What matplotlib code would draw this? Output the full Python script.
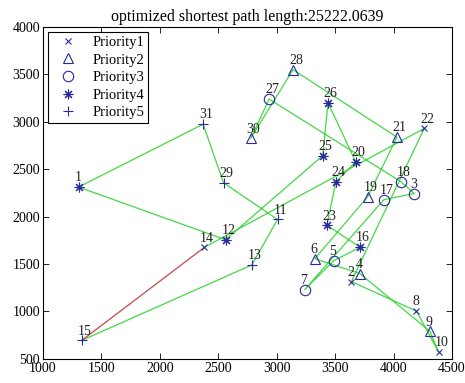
import matplotlib
matplotlib.use("Agg")
import matplotlib.pyplot as plt

# City coordinates (node 1..31)
xs = [1304, 3639, 4177, 3712, 3488, 3326, 3238, 4196, 4312, 4386, 3007, 2562, 2788, 2381,
      1332, 3715, 3918, 4061, 3780, 3676, 4029, 4263, 3429, 3507, 3394, 3439, 2935, 3140,
      2545, 2778, 2370]
ys = [2312, 1315, 2244, 1399, 1535, 1556, 1229, 1004, 790, 570, 1970, 1756, 1491, 1676,
      695, 1678, 2179, 2370, 2212, 2578, 2838, 2931, 1908, 2367, 2643, 3201, 3240, 3550,
      2357, 2826, 2975]
# Priority of each node
priority = [4, 1, 3, 2, 3, 2, 3, 1, 2, 1, 5, 4, 5, 1, 5, 4, 3, 3, 2, 4, 2, 1, 4, 4, 4, 4,
            3, 2, 5, 2, 5]
# Visiting order (1-based)
route = [15, 13, 11, 29, 31, 1, 12, 25, 26, 20, 24, 23, 16, 5, 7, 17, 3, 18, 27, 30, 28,
         21, 19, 6, 4, 9, 10, 8, 2, 22, 14]
path_length = "25222.0639"
priority_labels = ["Priority1", "Priority2", "Priority3", "Priority4", "Priority5"]

plt.rcParams['font.family'] = ['Liberation Serif', 'DejaVu Serif']

fig = plt.figure(figsize=(4.65, 3.83), dpi=100)
ax = fig.add_axes([0.0925, 0.063, 0.8795, 0.8665])

mcol = '#28289e'
markers = {1: 'x', 2: '^', 3: 'o', 4: (8, 2, 0), 5: '+'}
msize = {1: 5, 2: 7.5, 3: 7.5, 4: 7, 5: 7.5}

# path lines
rx = [xs[i - 1] for i in route]
ry = [ys[i - 1] for i in route]
ax.plot(rx, ry, color='#44d844', lw=0.9, zorder=2)
ax.plot([rx[-1], rx[0]], [ry[-1], ry[0]], color='#c04848', lw=0.9, zorder=2)

handles = []
for p in range(1, 6):
    px = [xs[i] for i in range(len(xs)) if priority[i] == p]
    py = [ys[i] for i in range(len(ys)) if priority[i] == p]
    h, = ax.plot(px, py, linestyle='none', marker=markers[p], markersize=msize[p],
                 markerfacecolor='none', markeredgecolor=mcol, markeredgewidth=0.8,
                 zorder=3, label=priority_labels[p - 1])
    handles.append(h)

for i in range(len(xs)):
    ax.annotate(str(i + 1), (xs[i], ys[i]), xytext=(-3, 2), textcoords='offset points',
                ha='left', va='bottom', fontsize=10, color='#222222', zorder=4)

ax.set_xlim(1000, 4500)
ax.set_ylim(500, 4000)
ax.set_xticks(range(1000, 4501, 500))
ax.set_yticks(range(500, 4001, 500))
ax.tick_params(direction='in', top=True, right=True, labelsize=10, length=4, width=0.6,
               pad=2)
for s in ax.spines.values():
    s.set_linewidth(0.8)
ax.set_title("optimized shortest path length:" + path_length, fontsize=11.5, pad=4)

leg = ax.legend(handles=handles, loc='upper left', fontsize=10.5, frameon=True,
                fancybox=False, edgecolor='black', framealpha=1, borderaxespad=0.35,
                handlelength=2.2, handletextpad=0.6, labelspacing=0.3, borderpad=0.25)
leg.get_frame().set_linewidth(0.8)

fig.savefig("out.png", dpi=100)
